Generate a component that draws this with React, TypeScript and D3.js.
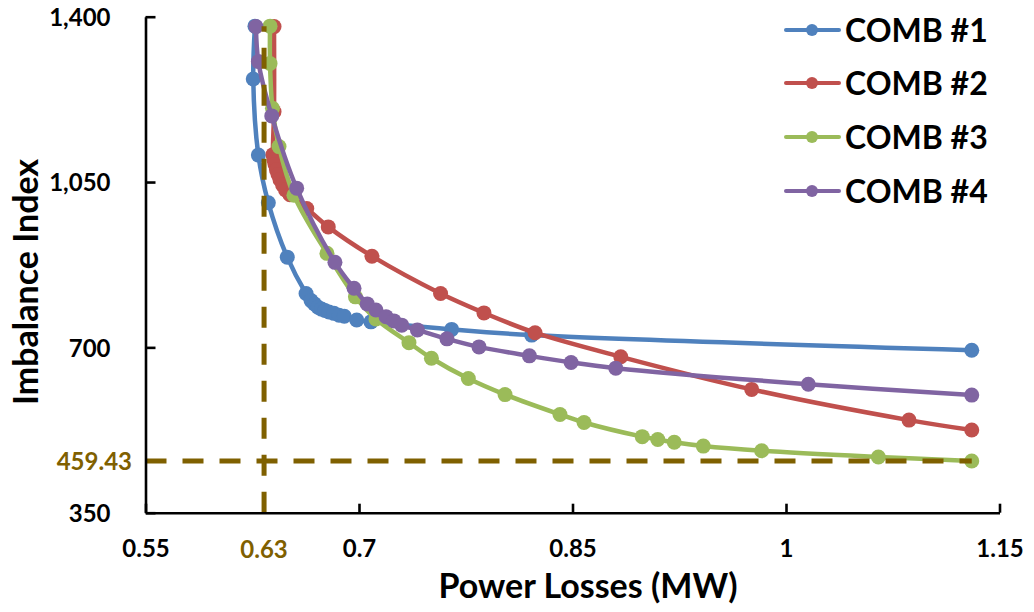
import React, { useEffect, useRef } from "react";
import * as d3 from "d3";

// values
const comb1Loss = [0.6269, 0.6257, 0.6293, 0.6363, 0.6496, 0.6628, 0.6663, 0.6687, 0.6712, 0.6737, 0.6761, 0.6789, 0.6824, 0.686, 0.6897, 0.6984, 0.7084, 0.7651, 0.8213, 1.1305];
const comb1Index = [1380, 1268, 1107, 1006, 891, 814, 799, 792, 785, 781, 778, 775, 772, 768, 766, 758, 754, 738, 726, 694];

const comb2Loss = [0.6403, 0.6403, 0.6396, 0.6403, 0.641, 0.642, 0.6431, 0.6445, 0.6463, 0.6484, 0.6515, 0.6633, 0.6784, 0.7091, 0.7573, 0.7878, 0.8237, 0.8839, 0.9759, 1.0864, 1.1305];
const comb2Index = [1379, 1199, 1108, 1097, 1087, 1076, 1066, 1055, 1044, 1033, 1023, 994, 955, 893, 814, 773, 731, 680, 611, 546, 525];

const comb3Loss = [0.6375, 0.6375, 0.6392, 0.6438, 0.6543, 0.6775, 0.6975, 0.7119, 0.7351, 0.7509, 0.7768, 0.8026, 0.8412, 0.8581, 0.899, 0.9099, 0.9215, 0.9419, 0.9829, 1.0649, 1.1305];
const comb3Index = [1380, 1301, 1206, 1125, 1022, 899, 807, 760, 710, 677, 634, 600, 558, 541, 511, 505, 499, 491, 481, 468, 459.43];

const comb4Loss = [0.6276, 0.6293, 0.6387, 0.6562, 0.6831, 0.6965, 0.7058, 0.7119, 0.719, 0.7246, 0.73, 0.741, 0.7618, 0.7843, 0.8197, 0.849, 0.8804, 1.0157, 1.1305];
const comb4Index = [1379, 1305, 1190, 1037, 880, 825, 792, 779, 765, 756, 747, 737, 718, 701, 682, 668, 656, 622, 599];

const seriesNames = ["COMB #1", "COMB #2", "COMB #3", "COMB #4"];
const seriesColors = ["#4F81BD", "#C0504D", "#9BBB59", "#8064A2"];

const xTicks = [0.55, 0.7, 0.85, 1, 1.15];
const yTicks = [350, 700, 1050, 1400];

// optimum marked by the dashed lines
const optLoss = 0.6333;
const optLossLabel = "0.63";
const optIndex = 459.43;
const optTop = 1380;
const optRight = 1.1305;

const W = 1034, H = 612;
const font = "Lato, 'Open Sans', sans-serif";
const brown = "#7F6000";

export default function App() {
  const ref = useRef<SVGSVGElement>(null);

  useEffect(() => {
    const svg = d3.select(ref.current);
    svg.selectAll("*").remove();

    const x = d3.scaleLinear().domain([0.55, 1.15]).range([145.5, 999.5]);
    const y = d3.scaleLinear().domain([350, 1400]).range([512.7, 16.7]);

    const series = [
      { xs: comb1Loss, ys: comb1Index },
      { xs: comb2Loss, ys: comb2Index },
      { xs: comb3Loss, ys: comb3Index },
      { xs: comb4Loss, ys: comb4Index },
    ].map((s, i) => ({
      name: seriesNames[i],
      color: seriesColors[i],
      pts: s.xs.map((v, j) => [v, s.ys[j]] as [number, number]),
    }));

    const line = d3
      .line<[number, number]>()
      .x((d) => x(d[0]))
      .y((d) => y(d[1]))
      .curve(d3.curveCatmullRom.alpha(0.5));

    series.forEach((s) => {
      const g = svg.append("g");
      g.append("path")
        .attr("d", line(s.pts))
        .attr("fill", "none")
        .attr("stroke", s.color)
        .attr("stroke-width", 4.5)
        .attr("stroke-linejoin", "round");
      g.selectAll("circle")
        .data(s.pts)
        .join("circle")
        .attr("cx", (d) => x(d[0]))
        .attr("cy", (d) => y(d[1]))
        .attr("r", 7.5)
        .attr("fill", s.color);
    });

    // dashed optimum lines
    svg.append("line")
      .attr("x1", x(optLoss)).attr("x2", x(optLoss))
      .attr("y1", y(350)).attr("y2", y(optTop))
      .attr("stroke", brown).attr("stroke-width", 5)
      .attr("stroke-dasharray", "21,16");
    svg.append("line")
      .attr("x1", x(0.55)).attr("x2", x(optRight))
      .attr("y1", y(optIndex)).attr("y2", y(optIndex))
      .attr("stroke", brown).attr("stroke-width", 5)
      .attr("stroke-dasharray", "21,16");

    // axes
    const xAxis = svg.append("g")
      .attr("transform", `translate(0,${y(350)})`)
      .call(
        d3.axisBottom(x)
          .tickValues(xTicks)
          .tickFormat((d) => d3.format("~g")(d as number))
          .tickSizeInner(-9)
          .tickSizeOuter(0)
          .tickPadding(27)
      );
    const yAxis = svg.append("g")
      .attr("transform", `translate(${x(0.55)},0)`)
      .call(
        d3.axisLeft(y)
          .tickValues(yTicks)
          .tickFormat((d) => d3.format(",")(d as number))
          .tickSizeInner(-10)
          .tickSizeOuter(0)
          .tickPadding(35)
      );
    [xAxis, yAxis].forEach((a) => {
      a.select(".domain").attr("stroke", "#000").attr("stroke-width", 2.6);
      a.selectAll(".tick line").attr("stroke", "#000").attr("stroke-width", 2.6);
      a.selectAll("text")
        .attr("font-family", font)
        .attr("font-weight", 700)
        .attr("font-size", 24)
        .attr("fill", "#000");
    });
    yAxis.selectAll("text").attr("dy", "0.36em");

    // brown annotation labels
    svg.append("text")
      .attr("x", x(optLoss)).attr("y", 558)
      .attr("text-anchor", "middle")
      .attr("font-family", font).attr("font-weight", 700).attr("font-size", 24)
      .attr("fill", brown)
      .text(optLossLabel);
    svg.append("text")
      .attr("x", 132).attr("y", y(optIndex))
      .attr("dy", "0.36em")
      .attr("text-anchor", "end")
      .attr("font-family", font).attr("font-weight", 700).attr("font-size", 24)
      .attr("fill", brown)
      .text(d3.format(".2f")(optIndex));

    // axis titles
    svg.append("text")
      .attr("x", 588).attr("y", 598)
      .attr("text-anchor", "middle")
      .attr("font-family", font).attr("font-weight", 700).attr("font-size", 34)
      .text("Power Losses (MW)");
    svg.append("text")
      .attr("transform", `translate(38,282) rotate(-90)`)
      .attr("text-anchor", "middle")
      .attr("font-family", font).attr("font-weight", 700).attr("font-size", 34)
      .text("Imbalance Index");

    // legend
    const rows = [30, 83, 137, 191];
    series.forEach((s, i) => {
      const g = svg.append("g").attr("transform", `translate(0,${rows[i]})`);
      g.append("line")
        .attr("x1", 786).attr("x2", 839)
        .attr("stroke", s.color).attr("stroke-width", 4)
        .attr("stroke-linecap", "round");
      g.append("circle").attr("cx", 812).attr("r", 6).attr("fill", s.color);
      g.append("text")
        .attr("x", 845).attr("dy", "0.36em")
        .attr("font-family", font).attr("font-weight", 700).attr("font-size", 32)
        .text(s.name);
    });
  }, []);

  return (
    <svg
      ref={ref}
      width={W}
      height={H}
      style={{ position: "absolute", left: 0, top: 0, background: "#fff" }}
    />
  );
}
